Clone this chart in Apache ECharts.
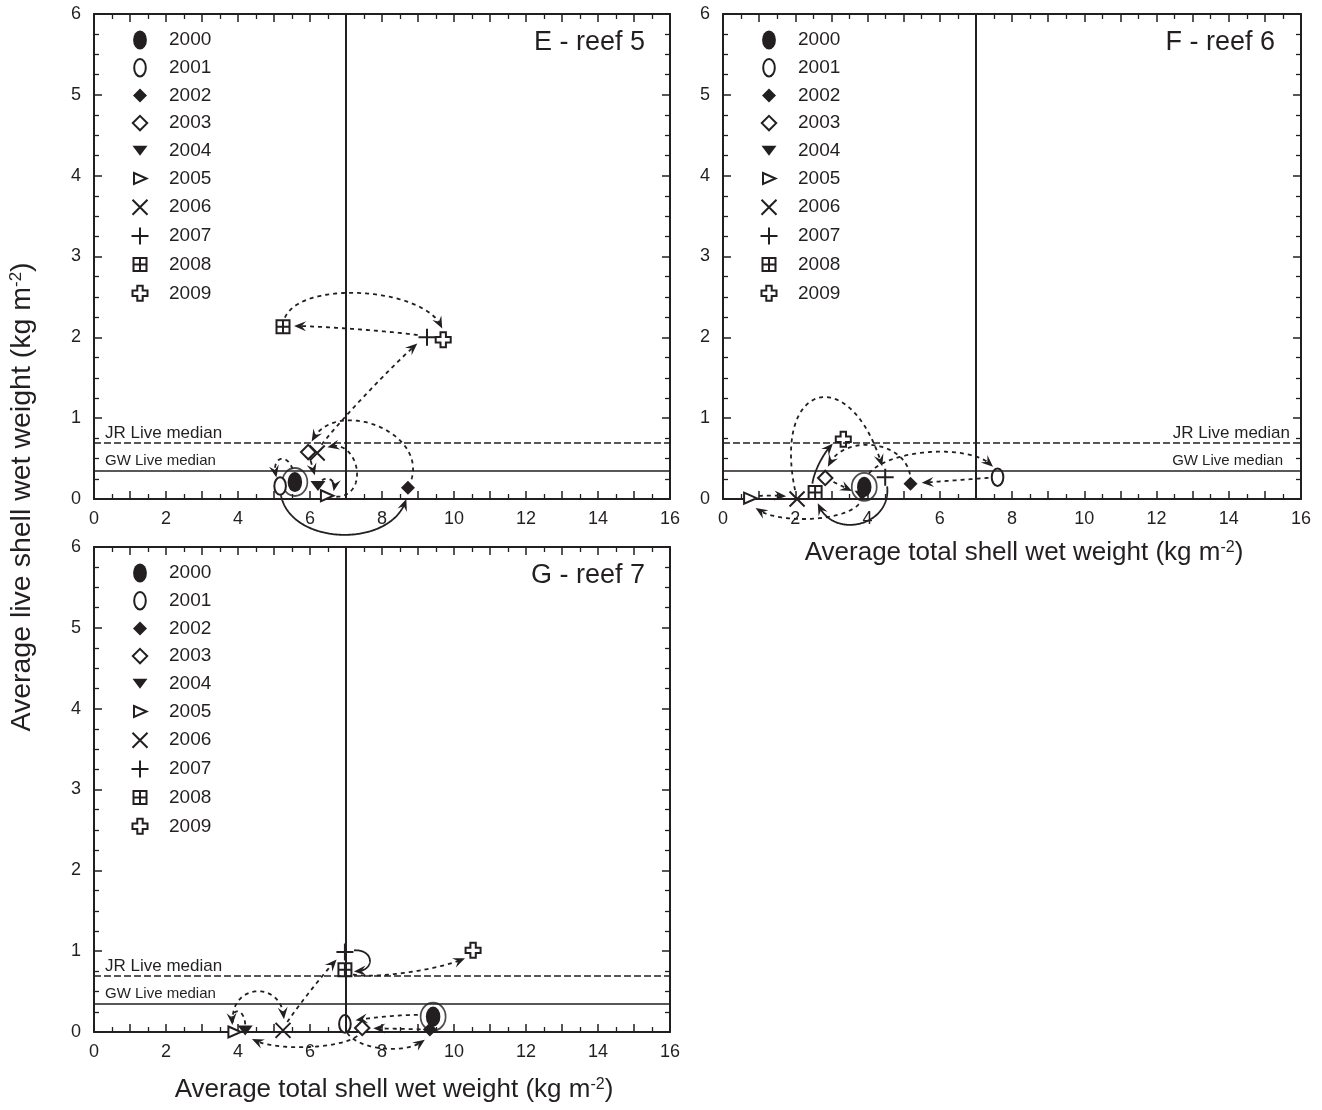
<!DOCTYPE html>
<html><head><meta charset="utf-8">
<script src="https://cdn.jsdelivr.net/npm/echarts@6/dist/echarts.min.js"></script>
<style>html,body{margin:0;padding:0;background:#fff}#c{width:1322px;height:1110px}</style>
</head><body><div id="c"></div>
<script>
// ---------------- data ----------------
const years = ['2000','2001','2002','2003','2004','2005','2006','2007','2008','2009'];
const xTickLabels = [0, 2, 4, 6, 8, 10, 12, 14, 16];
const yTickLabels = [0, 1, 2, 3, 4, 5, 6];

// E - reef 5
const reef5Total = [5.58, 5.17, 8.72, 5.95, 6.22, 6.47, 6.20, 9.25, 5.25, 9.70];
const reef5Live  = [0.21, 0.16, 0.14, 0.58, 0.16, 0.04, 0.57, 2.00, 2.13, 1.97];
// F - reef 6
const reef6Total = [3.91, 7.60, 5.19, 2.83, 3.85, 0.75, 2.05, 4.49, 2.55, 3.33];
const reef6Live  = [0.15, 0.27, 0.19, 0.26, 0.04, 0.01, 0.00, 0.27, 0.08, 0.74];
// G - reef 7
const reef7Total = [9.42, 6.97, 9.33, 7.45, 4.20, 3.90, 5.25, 6.97, 6.97, 10.53];
const reef7Live  = [0.19, 0.10, 0.03, 0.05, 0.02, 0.00, 0.02, 0.99, 0.77, 1.01];

const medianTotalShell = 7.0;
const jrLiveMedian = 0.7;
const gwLiveMedian = 0.35;

const panelTitles = ['E - reef 5', 'F - reef 6', 'G - reef 7'];

// ---------------- styles ----------------
const INK = '#231f20';
const FONT = 'Arial, "Liberation Sans", sans-serif';
const A = 'M0,0L0,0M20,20L20,20';
const symbols = {
  '2000': 'path://' + A + 'M10,0.4A6.9,9.6 0 1,1 10,19.6A6.9,9.6 0 1,1 10,0.4Z',
  '2001': 'path://' + A + 'M10,1.2A5.8,8.8 0 1,1 10,18.8A5.8,8.8 0 1,1 10,1.2Z',
  '2002': 'path://' + A + 'M10,3L17,10L10,17L3,10Z',
  '2003': 'path://' + A + 'M10,2.8L17.2,10L10,17.2L2.8,10Z',
  '2004': 'path://' + A + 'M2.5,5H17.5L10,15Z',
  '2005': 'path://' + A + 'M4,4.5L16.5,10L4,15.5Z',
  '2006': 'path://' + A + 'M2.5,2.5L17.5,17.5M17.5,2.5L2.5,17.5',
  '2007': 'path://' + A + 'M10,1.5V18.5M1.5,10H18.5',
  '2008': 'path://' + A + 'M3.5,3.5H16.5V16.5H3.5ZM10,3.5V16.5M3.5,10H16.5',
  '2009': 'path://' + A + 'M7.3,2.5H12.7V7.3H17.5V12.7H12.7V17.5H7.3V12.7H2.5V7.3H7.3Z'
};
const filledYears = {'2000': true, '2002': true, '2004': true};
const ringSymbol = 'path://M10,0A10,10 0 1,1 10,20A10,10 0 1,1 10,0Z';

// arrow shapes (h: bulge px, s: spread px, d: solid, a/b: trims)
const arrowStyleE = [
  {h:-26, s:8, a:13, b:9}, {h:-48, d:true}, {h:-48, s:10}, {h:0}, {h:14, s:8, a:7, b:8},
  {h:-35, s:22}, {h:5}, {h:-3}, {h:40, s:4}
];
const arrowStyleF = [
  {h:30, a:14}, {h:0}, {h:-36}, {h:0}, {h:22}, {h:3}, {h:93}, {h:40, s:5, d:true}, {h:10, d:true}
];
const arrowStyleG = [
  {h:-4, a:15}, {h:-22}, {h:0}, {h:18}, {h:-20, s:6, a:6, b:7}, {h:40, s:12}, {h:3},
  {h:25, s:10, d:true, a:9, b:9}, {h:-12}
];

const panels = [
  {total: reef5Total, live: reef5Live, arrows: arrowStyleE, labelSide: 'start'},
  {total: reef6Total, live: reef6Live, arrows: arrowStyleF, labelSide: 'end'},
  {total: reef7Total, live: reef7Live, arrows: arrowStyleG, labelSide: 'start'}
];
const grids = [
  {left: 94, top: 14, width: 576, height: 485},
  {left: 723, top: 14, width: 578, height: 485},
  {left: 94, top: 547, width: 576, height: 485}
];

function dist(p, q) { return Math.hypot(p[0] - q[0], p[1] - q[1]); }

function arrowRenderer(styleList) {
  return function (params, api) {
    const st = styleList[params.dataIndex] || {};
    const p1 = api.coord([api.value(0), api.value(1)]);
    const p2 = api.coord([api.value(2), api.value(3)]);
    const dx = p2[0] - p1[0], dy = p2[1] - p1[1];
    const L = Math.hypot(dx, dy) || 1;
    const ux = dx / L, uy = dy / L, nx = uy, ny = -ux;
    const H = (st.h || 0) * 4 / 3, s = st.s || 0;
    const c1 = [p1[0] + nx * H - ux * s, p1[1] + ny * H - uy * s];
    const c2 = [p2[0] + nx * H + ux * s, p2[1] + ny * H + uy * s];
    const pts = [];
    const N = 160;
    for (let i = 0; i <= N; i++) {
      const t = i / N, m = 1 - t;
      pts.push([
        m*m*m*p1[0] + 3*m*m*t*c1[0] + 3*m*t*t*c2[0] + t*t*t*p2[0],
        m*m*m*p1[1] + 3*m*m*t*c1[1] + 3*m*t*t*c2[1] + t*t*t*p2[1]
      ]);
    }
    const a = st.a != null ? st.a : 9, b = st.b != null ? st.b : 11;
    let i0 = 0; while (i0 < pts.length - 2 && dist(pts[i0], p1) < a) i0++;
    let i1 = pts.length - 1; while (i1 > i0 + 1 && dist(pts[i1], p2) < b) i1--;
    const seg = pts.slice(i0, i1 + 1);
    const tip = seg[seg.length - 1];
    let k = seg.length - 1; while (k > 0 && dist(seg[k], tip) < 6) k--;
    const back = seg[k];
    let tx = tip[0] - back[0], ty = tip[1] - back[1];
    const tl = Math.hypot(tx, ty) || 1; tx /= tl; ty /= tl;
    const hl = 12, hw = 5, notch = 7.5;
    const bx = tip[0] - tx * hl, by = tip[1] - ty * hl;
    const np = [tip[0] - tx * notch, tip[1] - ty * notch];
    const head = [tip, [bx + ty * hw, by - tx * hw], np, [bx - ty * hw, by + tx * hw]];
    const linePts = seg.filter(p => dist(p, tip) > notch).concat([np]);
    return {
      type: 'group',
      children: [
        {type: 'polyline', shape: {points: linePts},
         style: {stroke: INK, lineWidth: 1.8, fill: null, lineDash: st.d ? null : [4, 4]}},
        {type: 'polygon', shape: {points: head}, style: {fill: INK, stroke: null}}
      ]
    };
  };
}

// ---------------- axes ----------------
const xAxes = [], yAxes = [];
function axisCommon(isX, pos, g) {
  return {
    gridIndex: g, type: 'value', position: pos,
    min: 0, max: isX ? 16 : 6, interval: 1,
    axisLine: {show: true, onZero: false, lineStyle: {color: INK, width: 2}},
    axisTick: {show: true, inside: true, length: 8, lineStyle: {color: INK, width: 1.5}},
    minorTick: {show: true, splitNumber: isX ? 2 : 4, length: 5, lineStyle: {color: INK, width: 1.3}},
    splitLine: {show: false},
    axisLabel: {
      show: pos === 'bottom' || pos === 'left',
      fontSize: 18, color: INK, fontFamily: FONT, margin: isX ? 11 : 13,
      formatter: function (v) {
        const list = isX ? xTickLabels : yTickLabels;
        return list.indexOf(v) >= 0 ? String(v) : '';
      }
    }
  };
}
const supRich = {
  n: {fontSize: 26, fontFamily: FONT, color: INK},
  s: {fontSize: 16, fontFamily: FONT, color: INK, verticalAlign: 'top', lineHeight: 16}
};
const supRichY = {
  n: {fontSize: 28.5, fontFamily: FONT, color: INK},
  s: {fontSize: 17, fontFamily: FONT, color: INK, verticalAlign: 'top', lineHeight: 17}
};
grids.forEach((gr, g) => {
  const bottom = axisCommon(true, 'bottom', g);
  if (g === 1 || g === 2) {
    bottom.name = '{n|Average total shell wet weight (kg m}{s|-2}{n|)}';
    bottom.nameLocation = 'middle';
    bottom.nameGap = g === 1 ? 41 : 45;
    bottom.nameTextStyle = {rich: supRich, padding: [0, 0, 0, 24]};
  }
  xAxes.push(bottom);
  xAxes.push(axisCommon(true, 'top', g));
  yAxes.push(axisCommon(false, 'left', g));
  yAxes.push(axisCommon(false, 'right', g));
});

// ---------------- series ----------------
const series = [];
panels.forEach((p, g) => {
  const xi = g * 2, yi = g * 2;
  const side = p.labelSide;
  const lblPos = side === 'start' ? 'insideStartTop' : 'insideEndTop';
  series.push({
    type: 'scatter', name: 'first-year ring', xAxisIndex: xi, yAxisIndex: yi,
    data: [[p.total[0], p.live[0]]], symbol: ringSymbol, symbolSize: [25, 28],
    itemStyle: {color: 'rgba(0,0,0,0)', borderColor: INK, borderWidth: 1.8},
    silent: true, z: 3,
    markLine: {
      silent: true, symbol: 'none', animation: false,
      data: [
        {xAxis: medianTotalShell, lineStyle: {color: INK, width: 2, type: 'solid'}, label: {show: false}},
        {yAxis: jrLiveMedian, lineStyle: {color: INK, width: 1.6, type: [7, 3]},
         label: {show: true, formatter: 'JR Live median', position: lblPos, distance: [11, 1],
                 fontSize: 17, color: INK, fontFamily: FONT}},
        {yAxis: gwLiveMedian, lineStyle: {color: INK, width: 1.6, type: 'solid'},
         label: {show: true, formatter: 'GW Live median', position: lblPos, distance: [side === 'start' ? 11 : 18, 2],
                 fontSize: 15, color: INK, fontFamily: FONT}}
      ]
    }
  });
  const segs = [];
  for (let i = 0; i < years.length - 1; i++) {
    segs.push([p.total[i], p.live[i], p.total[i + 1], p.live[i + 1]]);
  }
  series.push({
    type: 'custom', name: 'trajectory', xAxisIndex: xi, yAxisIndex: yi,
    coordinateSystem: 'cartesian2d', renderItem: arrowRenderer(p.arrows),
    data: segs, encode: {x: [0, 2], y: [1, 3]}, silent: true, z: 2, clip: false
  });
  years.forEach((yr, i) => {
    const filled = !!filledYears[yr];
    series.push({
      type: 'scatter', name: yr, xAxisIndex: xi, yAxisIndex: yi,
      data: [[p.total[i], p.live[i]]],
      symbol: symbols[yr], symbolSize: yr === '2000' ? 21 : 20,
      itemStyle: {color: filled ? INK : '#fff', borderColor: INK, borderWidth: filled ? 0 : 2, opacity: 1},
      silent: true, z: 4
    });
  });
});

// ---------------- legends ----------------
const legendPos = [{left: 129, top: 30}, {left: 758, top: 30}, {left: 129, top: 563}];
const legends = legendPos.map(lp => ({
  data: years.map(y => ({name: y, icon: symbols[y]})),
  orient: 'vertical', left: lp.left, top: lp.top, padding: 0,
  itemWidth: 20, itemHeight: 20, itemGap: 6.7, selectedMode: false,
  textStyle: {fontSize: 19, color: INK, fontFamily: FONT, lineHeight: 20, padding: [0, 0, 0, 14]}
}));

// ---------------- texts ----------------
const graphics = [
  {type: 'text', x: 645, y: 43, style: {text: panelTitles[0], fontSize: 27, fontFamily: FONT, fill: INK, align: 'right', verticalAlign: 'middle'}},
  {type: 'text', x: 1275, y: 43, style: {text: panelTitles[1], fontSize: 27, fontFamily: FONT, fill: INK, align: 'right', verticalAlign: 'middle'}},
  {type: 'text', x: 645, y: 576, style: {text: panelTitles[2], fontSize: 27, fontFamily: FONT, fill: INK, align: 'right', verticalAlign: 'middle'}},
  {type: 'text', x: 22, y: 497, rotation: Math.PI / 2,
   style: {text: '{n|Average live shell wet weight (kg m}{s|-2}{n|)}', rich: supRichY,
           align: 'center', verticalAlign: 'middle', fill: INK}}
];

const chart = echarts.init(document.getElementById('c'), null, {renderer: 'canvas'});
chart.setOption({
  animation: false,
  backgroundColor: '#fff',
  grid: grids,
  xAxis: xAxes,
  yAxis: yAxes,
  legend: legends,
  series: series,
  graphic: graphics
});
</script>
</body></html>
